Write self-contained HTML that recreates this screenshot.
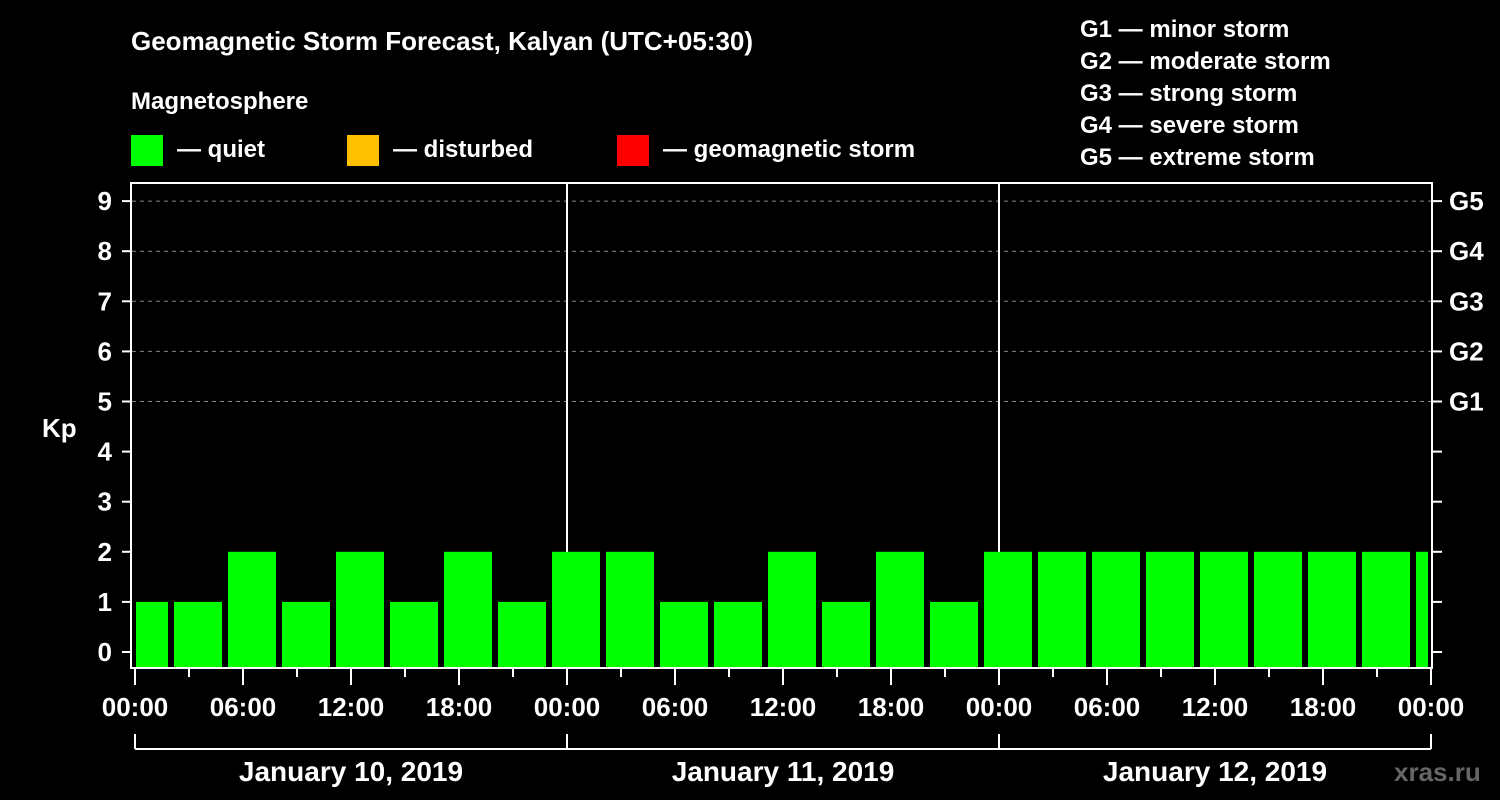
<!DOCTYPE html>
<html><head><meta charset="utf-8"><style>
html,body{margin:0;padding:0;background:#000;}
svg{display:block;font-family:"Liberation Sans",sans-serif;font-weight:bold;}
</style></head><body>
<svg width="1500" height="800" viewBox="0 0 1500 800" id="chart">
<rect width="1500" height="800" fill="#000"/>
<text x="131" y="50" fill="#fff" font-size="26">Geomagnetic Storm Forecast, Kalyan (UTC+05:30)</text>
<text x="131" y="109" fill="#fff" font-size="24">Magnetosphere</text>
<g><rect x="131" y="135" width="32" height="31" fill="#00ff00"/><text x="177" y="157" fill="#fff" font-size="24">— quiet</text></g>
<g><rect x="347" y="135" width="32" height="31" fill="#ffc000"/><text x="393" y="157" fill="#fff" font-size="24">— disturbed</text></g>
<g><rect x="617" y="135" width="32" height="31" fill="#ff0000"/><text x="663" y="157" fill="#fff" font-size="24">— geomagnetic storm</text></g>
<g fill="#fff" font-size="24">
<text x="1080" y="37">G1 — minor storm</text>
<text x="1080" y="69">G2 — moderate storm</text>
<text x="1080" y="101">G3 — strong storm</text>
<text x="1080" y="133">G4 — severe storm</text>
<text x="1080" y="165">G5 — extreme storm</text>
</g>
<text x="42" y="437" fill="#fff" font-size="26">Kp</text>
<text x="1394" y="781" fill="#666" font-size="26">xras.ru</text>
<g id="grid"></g>
<g id="bars"></g>
<g id="axes"></g>
</svg>
<script>
const kpValues=[1,1,2,1,2,1,2,1,2,2,1,1,2,1,2,1,2,2,2,2,2,2,2,2,2];
const yTicks=[0,1,2,3,4,5,6,7,8,9];
const gLabels=["G1","G2","G3","G4","G5"];
const xTickLabels=["00:00","06:00","12:00","18:00","00:00","06:00","12:00","18:00","00:00","06:00","12:00","18:00","00:00"];
const dayLabels=["January 10, 2019","January 11, 2019","January 12, 2019"];
const NS="http://www.w3.org/2000/svg";
const X=h=>135+h*18;
const Y=v=>652-v*50.1;
function mk(tag,attrs,parent,text){const e=document.createElementNS(NS,tag);for(const k in attrs)e.setAttribute(k,attrs[k]);if(text!==undefined)e.textContent=text;parent.appendChild(e);return e;}
const grid=document.getElementById('grid'),bars=document.getElementById('bars'),axes=document.getElementById('axes');
// grid lines for G levels
gLabels.forEach((g,i)=>{const v=5+i;
const l=mk('line',{x1:132,x2:1431,y1:Y(v),y2:Y(v),stroke:'#888','stroke-dasharray':'4,4','stroke-width':1},grid);


const t=mk('text',{x:1449,y:Y(v)+9,fill:'#fff','font-size':26},axes,g);


});
// day separators
[24,48].forEach(h=>{const l=mk('line',{x1:X(h),x2:X(h),y1:183,y2:668,stroke:'#fff','stroke-width':2},grid);

});
// bars
kpValues.forEach((v,k)=>{const s=Math.max(0,-1+3*k),e=Math.min(72,2+3*k);
const x0=s===0?X(s)+1:X(s)+3,x1=X(e)-3;
const r=mk('rect',{x:x0,y:Y(v),width:x1-x0,height:668-Y(v),fill:'#00ff00'},bars);

});
// frame
const f=mk('rect',{x:131,y:183,width:1301,height:485,fill:'none',stroke:'#fff','stroke-width':2},axes);


yTicks.forEach(v=>{
mk('line',{x1:122,x2:131,y1:Y(v),y2:Y(v),stroke:'#fff','stroke-width':2},axes);
mk('line',{x1:1432,x2:1442,y1:Y(v),y2:Y(v),stroke:'#fff','stroke-width':2},axes);
const t=mk('text',{x:112,y:Y(v)+9,fill:'#fff','font-size':26,'text-anchor':'end'},axes,String(v));

});
for(let h=0;h<=72;h+=3){const major=h%6===0;
mk('line',{x1:X(h),x2:X(h),y1:669,y2:major?685:677,stroke:'#fff','stroke-width':2},axes);}
xTickLabels.forEach((s,i)=>{const t=mk('text',{x:X(i*6),y:716,fill:'#fff','font-size':26,'text-anchor':'middle'},axes,s);

});
mk('line',{x1:X(0),x2:X(72),y1:749,y2:749,stroke:'#fff','stroke-width':2},axes);
[0,24,48,72].forEach(h=>mk('line',{x1:X(h),x2:X(h),y1:734,y2:749,stroke:'#fff','stroke-width':2},axes));
dayLabels.forEach((d,i)=>{const t=mk('text',{x:X(i*24+12),y:781,fill:'#fff','font-size':28,'text-anchor':'middle'},axes,d);

});
</script>
</body></html>
